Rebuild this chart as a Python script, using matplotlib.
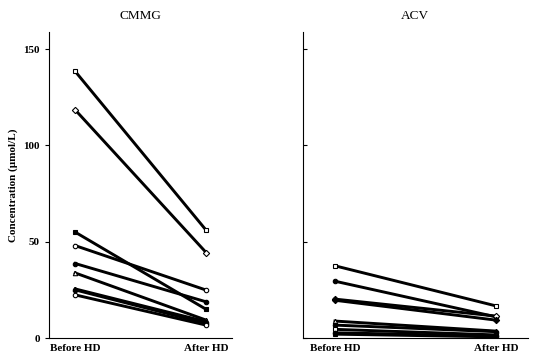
import matplotlib
matplotlib.use("Agg")
import matplotlib.pyplot as plt

# two time points
timepoints = ["Before HD", "After HD"]

# CMMG, per patient (before, after), umol/L
cmmg_before = [138.5, 118.5, 55.0, 48.0, 38.7, 33.8, 25.5, 25.0, 22.4]
cmmg_after = [56.0, 44.4, 14.9, 24.9, 18.8, 9.3, 8.5, 7.6, 6.7]
cmmg_markers = ["s", "D", "s", "o", "o", "^", "^", "o", "o"]
cmmg_filled = [False, False, True, False, True, False, True, True, False]

# ACV, per patient (before, after), umol/L
acv_before = [37.5, 29.5, 20.2, 19.6, 8.8, 6.7, 4.5, 2.7, 2.0]
acv_after = [16.7, 11.0, 11.4, 9.3, 3.6, 3.3, 1.6, 1.0, 0.6]
acv_markers = ["s", "o", "D", "D", "^", "o", "s", "o", "s"]
acv_filled = [False, True, False, True, False, True, False, True, True]

yticks = [0, 50, 100, 150]

plt.rcParams["font.family"] = "Liberation Serif"
fig = plt.figure(figsize=(5.36, 3.64), dpi=100)
ax1 = fig.add_axes([0.0914, 0.0714, 0.342, 0.841])
ax2 = fig.add_axes([0.565, 0.0714, 0.420, 0.841])


def draw(ax, before, after, markers, filled, title):
    x = [0, 1]
    for b, a, m, f in zip(before, after, markers, filled):
        ax.plot(x, [b, a], color="black", lw=2.1, marker=m, ms=3.2,
                mec="black", mew=0.8, mfc="black" if f else "white")
    ax.set_xlim(-0.2, 1.2)
    ax.set_ylim(0, 159)
    ax.set_yticks(yticks)
    ax.set_xticks(x)
    ax.set_xticklabels(timepoints, fontsize=8, fontweight="bold")
    ax.tick_params(axis="x", length=0, pad=4)
    for s in ("top", "right"):
        ax.spines[s].set_visible(False)
    ax.set_title(title, fontsize=9.5, pad=9)


draw(ax1, cmmg_before, cmmg_after, cmmg_markers, cmmg_filled, "CMMG")
ax1.set_yticklabels([str(t) for t in yticks], fontsize=8, fontweight="bold")
ax1.tick_params(axis="y", direction="out", length=3)
ax1.set_ylabel("Concentration (µmol/L)", fontsize=8, fontweight="bold")

draw(ax2, acv_before, acv_after, acv_markers, acv_filled, "ACV")
ax2.set_yticklabels([])
ax2.tick_params(axis="y", direction="in", length=3)

fig.savefig("out.png", dpi=100)
